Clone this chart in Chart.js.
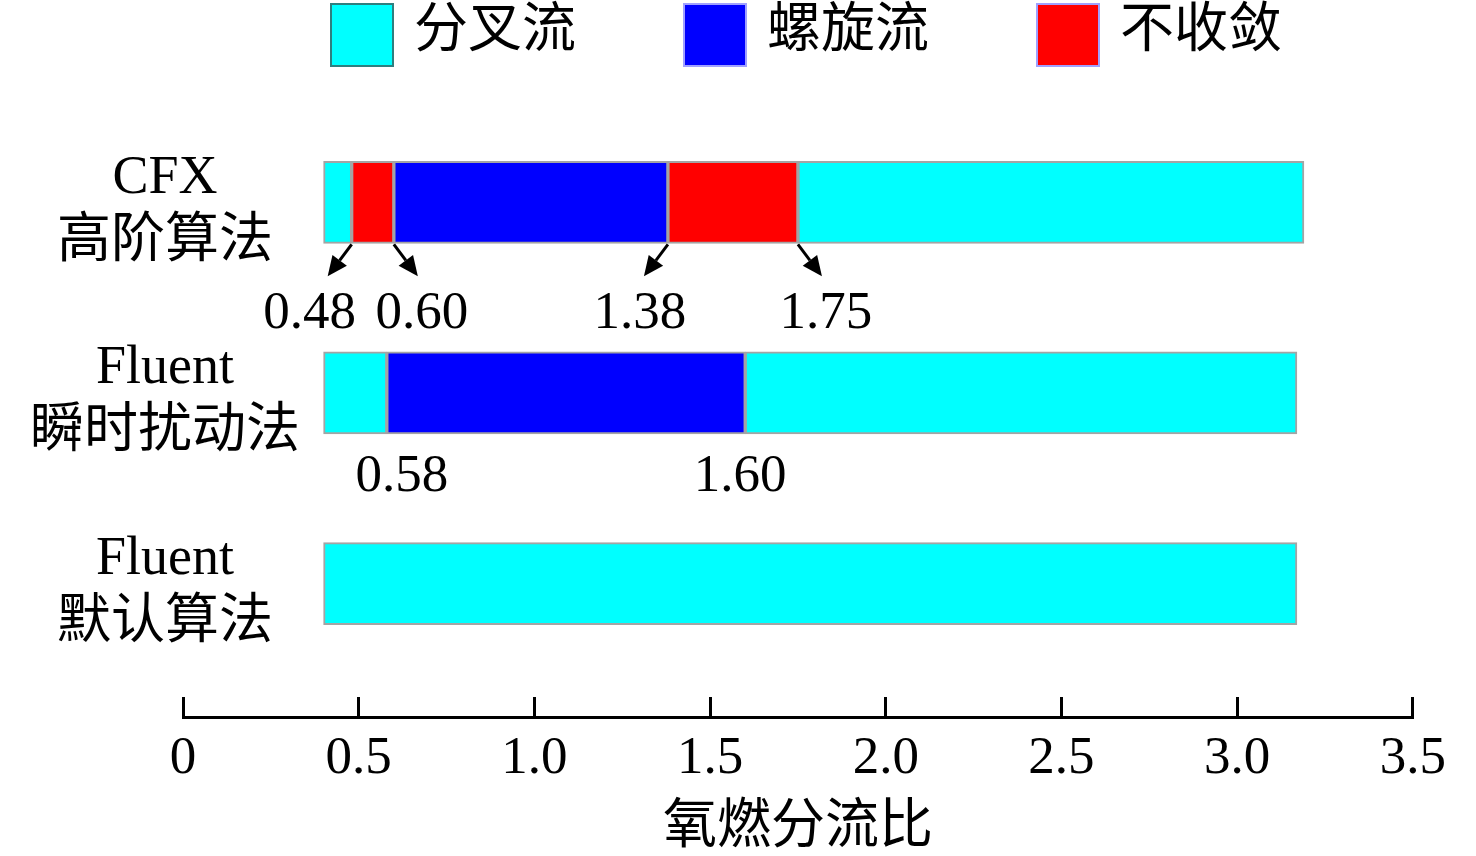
<!DOCTYPE html>
<html>
<head>
<meta charset="utf-8">
<script src="https://cdn.jsdelivr.net/npm/chart.js@4.4.1/dist/chart.umd.min.js"></script>
<style>
  html, body { margin: 0; padding: 0; background: #fff; }
  #wrap { width: 1476px; height: 856px; position: relative; }
</style>
</head>
<body>
<div id="wrap"><canvas id="chart"></canvas></div>
<script>
// Datos del gráfico
const categories = [['CFX', '高阶算法'], ['Fluent', '瞬时扰动法'], ['Fluent', '默认算法']];
const regimeNames = ['分叉流', '螺旋流', '不收敛'];
const regimeColors = ['#00FFFF', '#0000FF', '#FF0000'];

// segmentos [inicio, fin] y régimen de cada uno
const cfxSegments = [[0.40, 0.48], [0.48, 0.60], [0.60, 1.38], [1.38, 1.75], [1.75, 3.19]];
const cfxRegimes = [0, 2, 1, 2, 0];
const transientSegments = [[0.40, 0.58], [0.58, 1.60], [1.60, 3.17]];
const transientRegimes = [0, 1, 0];
const defaultSegments = [[0.40, 3.17]];
const defaultRegimes = [0];

// marcas de transición
const cfxMarks = [0.48, 0.60, 1.38, 1.75];
const cfxArrowDirs = [-1, 1, -1, 1];
const transientMarks = [0.58, 1.60];

const xTickLabels = ['0', '0.5', '1.0', '1.5', '2.0', '2.5', '3.0', '3.5'];
const xTitle = '氧燃分流比';

const FONT = "'Liberation Serif', 'Noto Sans CJK SC', serif";
const BAR_H = 82;

Chart.defaults.font.family = FONT;
Chart.defaults.color = '#000';

// Construir datasets: uno por segmento
const datasets = [];
function addSegments(segs, regimes, catIndex) {
    for (let i = 0; i < segs.length; i++) {
        datasets.push({
            label: regimeNames[regimes[i]],
            data: [{ y: catIndex, x: segs[i] }],
            backgroundColor: regimeColors[regimes[i]],
            borderColor: '#a4a4a4',
            borderWidth: 2,
            borderSkipped: false,
            grouped: false,
            barThickness: BAR_H
        });
    }
}
addSegments(cfxSegments, cfxRegimes, 0);
addSegments(transientSegments, transientRegimes, 1);
addSegments(defaultSegments, defaultRegimes, 2);

// Etiquetas de categorías a la izquierda
const categoryLabels = {
    id: 'categoryLabels',
    afterDraw(chart) {
        const ctx = chart.ctx;
        const y = chart.scales.y;
        ctx.save();
        ctx.fillStyle = '#000';
        ctx.textAlign = 'center';
        ctx.textBaseline = 'middle';
        ctx.font = '54px ' + FONT;
        categories.forEach((lines, i) => {
            const yc = y.getPixelForValue(i);
            ctx.fillText(lines[0], 165, yc - 24);
            ctx.fillText(lines[1], 165, yc + 40);
        });
        ctx.restore();
    }
};

// Flechas y valores de transición
function drawArrow(ctx, x1, y1, x2, y2) {
    const ang = Math.atan2(y2 - y1, x2 - x1);
    const head = 20, half = 9;
    const bx = x2 - head * Math.cos(ang), by = y2 - head * Math.sin(ang);
    ctx.beginPath();
    ctx.moveTo(x1, y1);
    ctx.lineTo(bx, by);
    ctx.stroke();
    ctx.beginPath();
    ctx.moveTo(x2, y2);
    ctx.lineTo(bx + half * Math.sin(ang), by - half * Math.cos(ang));
    ctx.lineTo(bx - half * Math.sin(ang), by + half * Math.cos(ang));
    ctx.closePath();
    ctx.fill();
}

const transitionMarks = {
    id: 'transitionMarks',
    afterDraw(chart) {
        const ctx = chart.ctx;
        const x = chart.scales.x;
        const y = chart.scales.y;
        ctx.save();
        ctx.fillStyle = '#000';
        ctx.strokeStyle = '#000';
        ctx.lineWidth = 3;
        ctx.textAlign = 'center';
        ctx.textBaseline = 'middle';
        ctx.font = '53px ' + FONT;

        const cfxBottom = y.getPixelForValue(0) + BAR_H / 2;
        cfxMarks.forEach((v, i) => {
            const px = x.getPixelForValue(v);
            const tipX = px + cfxArrowDirs[i] * 24;
            drawArrow(ctx, px, cfxBottom + 1, tipX, cfxBottom + 33);
            const lx = i === 0 ? tipX - 18 : tipX + cfxArrowDirs[i] * 4;
            ctx.fillText(v.toFixed(2), lx, cfxBottom + 71);
        });

        // en el original la etiqueta izquierda queda algo desplazada a la derecha
        const trBottom = y.getPixelForValue(1) + BAR_H / 2;
        const nudge = [15, -5];
        transientMarks.forEach((v, i) => {
            const px = x.getPixelForValue(v);
            ctx.fillText(v.toFixed(2), px + nudge[i], trBottom + 43);
        });
        ctx.restore();
    }
};

// Leyenda dibujada arriba
const topLegend = {
    id: 'topLegend',
    afterDraw(chart) {
        const ctx = chart.ctx;
        ctx.save();
        ctx.font = '54px ' + FONT;
        ctx.textBaseline = 'middle';
        ctx.textAlign = 'left';
        const box = 64, gapText = 20, gapItem = 107;
        const widths = regimeNames.map(n => box + gapText + ctx.measureText(n).width);
        const total = widths.reduce((a, b) => a + b, 0) + gapItem * (widths.length - 1);
        let cx = 806 - total / 2;
        regimeNames.forEach((name, i) => {
            ctx.fillStyle = regimeColors[i];
            ctx.fillRect(cx, 3, box, box);
            ctx.strokeStyle = i === 0 ? '#2e7f7f' : '#a0a0ff';
            ctx.lineWidth = 2;
            ctx.strokeRect(cx + 1, 4, box - 2, box - 2);
            ctx.fillStyle = '#000';
            ctx.fillText(name, cx + box + gapText, 33);
            cx += widths[i] + gapItem;
        });
        ctx.restore();
    }
};

const chart = new Chart(document.getElementById('chart'), {
    type: 'bar',
    data: { datasets: datasets },
    options: {
        indexAxis: 'y',
        responsive: true,
        maintainAspectRatio: false,
        animation: false,
        layout: { padding: { top: 107, right: 63, left: 183, bottom: 0 } },
        plugins: {
            legend: { display: false },
            tooltip: { enabled: false }
        },
        scales: {
            y: {
                type: 'linear',
                display: false,
                offset: false,
                reverse: true,
                min: -0.5,
                max: 2.7
            },
            x: {
                min: 0,
                max: 3.5,
                border: { display: true, color: '#000', width: 3 },
                grid: {
                    drawOnChartArea: false,
                    color: '#000',
                    lineWidth: 3,
                    tickLength: -20
                },
                ticks: {
                    stepSize: 0.5,
                    autoSkip: false,
                    maxRotation: 0,
                    padding: 30,
                    font: { size: 53 },
                    color: '#000',
                    callback: (v, i) => xTickLabels[i]
                },
                title: {
                    display: true,
                    text: xTitle,
                    font: { size: 54 },
                    color: '#000',
                    padding: { top: 0, bottom: -5 }
                },
                afterFit(scale) {
                    scale.height = 139;
                }
            }
        }
    },
    plugins: [categoryLabels, transitionMarks, topLegend]
});
</script>
</body>
</html>
